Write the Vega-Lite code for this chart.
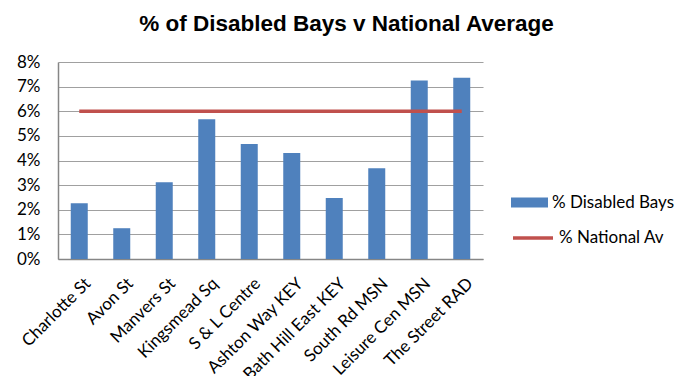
{
  "$schema": "https://vega.github.io/schema/vega-lite/v6.json",
  "width": 425,
  "height": 197,
  "autosize": "none",
  "padding": {"left": 58, "top": 62, "right": 198, "bottom": 117},
  "background": "white",
  "title": {
    "text": "% of Disabled Bays v National Average",
    "font": "Liberation Sans",
    "fontSize": 22.5,
    "fontWeight": "bold",
    "color": "#000000",
    "anchor": "middle",
    "dx": 76,
    "offset": 18
  },
  "data": {
    "values": [
      {"site": "Charlotte St", "bays": 0.0226, "national": 0.06},
      {"site": "Avon St", "bays": 0.0125, "national": 0.06},
      {"site": "Manvers St", "bays": 0.0312, "national": 0.06},
      {"site": "Kingsmead Sq", "bays": 0.0568, "national": 0.06},
      {"site": "S & L Centre", "bays": 0.0467, "national": 0.06},
      {"site": "Ashton Way KEY", "bays": 0.043, "national": 0.06},
      {"site": "Bath Hill East KEY", "bays": 0.0248, "national": 0.06},
      {"site": "South Rd MSN", "bays": 0.0369, "national": 0.06},
      {"site": "Leisure Cen MSN", "bays": 0.0725, "national": 0.06},
      {"site": "The Street RAD", "bays": 0.0736, "national": 0.06}
    ]
  },
  "encoding": {
    "x": {
      "field": "site",
      "type": "nominal",
      "sort": null,
      "title": null,
      "scale": {"paddingInner": 0.6, "paddingOuter": 0.3},
      "axis": {
        "labelAngle": -45,
        "labelAlign": "right",
        "labelBaseline": "top",
        "labelFont": "Lato",
        "labelFontSize": 17,
        "labelColor": "#000000",
        "labelPadding": 16,
        "labelOffset": 3,
        "labelOverlap": false,
        "ticks": false,
        "domainColor": "#868686",
        "domainWidth": 1.5,
        "grid": false
      }
    },
    "y": {
      "type": "quantitative",
      "title": null,
      "scale": {"domain": [0, 0.08], "nice": false},
      "axis": {
        "values": [0, 0.01, 0.02, 0.03, 0.04, 0.05, 0.06, 0.07, 0.08],
        "format": ".0%",
        "labelFont": "Lato",
        "labelFontSize": 17,
        "labelColor": "#000000",
        "labelPadding": 18,
        "ticks": false,
        "domainColor": "#868686",
        "domainWidth": 1.5,
        "gridColor": "#A0A0A0",
        "gridWidth": 1.2
      }
    }
  },
  "layer": [
    {
      "mark": {"type": "bar"},
      "encoding": {
        "y": {"field": "bays"},
        "color": {
          "datum": "% Disabled Bays",
          "scale": {"range": ["#4F81BD"]},
          "legend": {
            "orient": "none",
            "legendX": 453,
            "legendY": 122,
            "title": null,
            "symbolType": "M-1,-0.27L1,-0.27L1,0.27L-1,0.27Z",
            "symbolSize": 1369,
            "symbolStrokeWidth": 0,
            "labelFont": "Lato",
            "labelFontSize": 17,
            "labelColor": "#000000",
            "labelOffset": 4
          }
        }
      }
    },
    {
      "mark": {"type": "line", "strokeWidth": 3.5},
      "encoding": {
        "y": {"field": "national"},
        "stroke": {
          "datum": "% National Av",
          "scale": {"range": ["#C0504D"]},
          "legend": {
            "orient": "none",
            "legendX": 453,
            "legendY": 154,
            "title": null,
            "symbolType": "stroke",
            "symbolSize": 1600,
            "symbolStrokeWidth": 3.5,
            "labelFont": "Lato",
            "labelFontSize": 17,
            "labelColor": "#000000",
            "labelOffset": 4
          }
        }
      }
    }
  ],
  "config": {"view": {"stroke": null}}
}
